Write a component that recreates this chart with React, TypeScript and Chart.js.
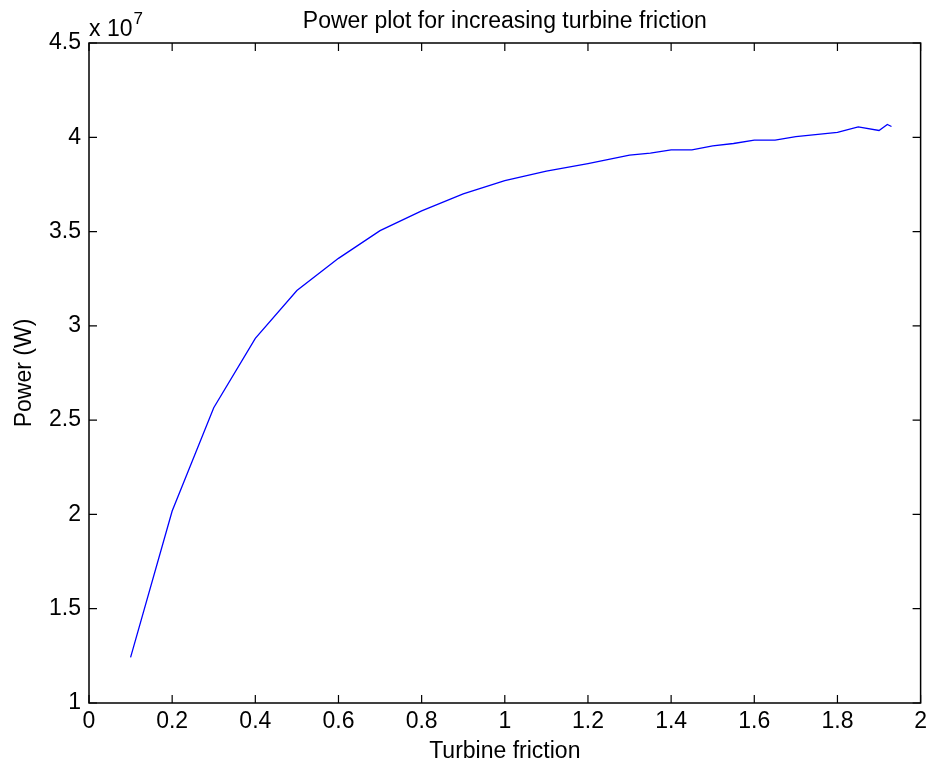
import React, { useEffect, useRef } from "react";
import { Chart, registerables } from "chart.js";

Chart.register(...registerables);

// ---- Data ----
const friction = [0.1, 0.2, 0.3, 0.4, 0.5, 0.6, 0.7, 0.8, 0.9, 1.0, 1.1, 1.2, 1.3, 1.35, 1.4, 1.45, 1.5, 1.55, 1.6, 1.65, 1.7, 1.8, 1.85, 1.9, 1.92, 1.93];
const powerW = [1.242e7, 2.018e7, 2.566e7, 2.934e7, 3.187e7, 3.358e7, 3.505e7, 3.61e7, 3.7e7, 3.77e7, 3.82e7, 3.86e7, 3.905e7, 3.916e7, 3.933e7, 3.933e7, 3.954e7, 3.967e7, 3.985e7, 3.985e7, 4.004e7, 4.026e7, 4.055e7, 4.036e7, 4.068e7, 4.057e7];
const xTickValues = [0, 0.2, 0.4, 0.6, 0.8, 1, 1.2, 1.4, 1.6, 1.8, 2];
const yTickValues = [1, 1.5, 2, 2.5, 3, 3.5, 4, 4.5]; // in units of 10^7 W
const yExponent = 7;
const titleText = "Power plot for increasing turbine friction";
const xLabel = "Turbine friction";
const yLabel = "Power (W)";

const FONT = '"Liberation Sans", Arial, Helvetica, sans-serif';
const TICK_SIZE = 23;
const LABEL_SIZE = 23;
const SCALE = Math.pow(10, yExponent);

const matlabAxes = {
  id: "matlabAxes",
  afterDatasetsDraw(chart: any) {
    const { ctx, chartArea: a, scales } = chart;
    const xs = scales.x;
    const ys = scales.y;
    const L = 8;
    ctx.save();
    ctx.strokeStyle = "#000";
    ctx.lineWidth = 1.2;
    ctx.beginPath();
    for (const v of xTickValues) {
      const px = xs.getPixelForValue(v);
      ctx.moveTo(px, a.bottom);
      ctx.lineTo(px, a.bottom - L);
      ctx.moveTo(px, a.top);
      ctx.lineTo(px, a.top + L);
    }
    for (const v of yTickValues) {
      const py = ys.getPixelForValue(v * SCALE);
      ctx.moveTo(a.left, py);
      ctx.lineTo(a.left + L, py);
      ctx.moveTo(a.right, py);
      ctx.lineTo(a.right - L, py);
    }
    ctx.stroke();
    ctx.lineWidth = 1.5;
    ctx.strokeRect(a.left, a.top, a.right - a.left, a.bottom - a.top);

    ctx.fillStyle = "#000";
    // title, centred over the axes
    ctx.textAlign = "center";
    ctx.textBaseline = "middle";
    ctx.font = `${LABEL_SIZE}px ${FONT}`;
    ctx.fillText(titleText, (a.left + a.right) / 2, 22);

    // exponent label "x 10^7"
    ctx.textAlign = "left";
    ctx.textBaseline = "alphabetic";
    ctx.font = `${TICK_SIZE}px ${FONT}`;
    const base = "x 10";
    ctx.fillText(base, a.left, a.top - 7);
    const w = ctx.measureText(base).width;
    ctx.font = `${Math.round(TICK_SIZE * 0.72)}px ${FONT}`;
    ctx.fillText(String(yExponent), a.left + w + 1, a.top - 19);
    ctx.restore();
  },
};

export default function App() {
  const canvasRef = useRef<HTMLCanvasElement | null>(null);

  useEffect(() => {
    document.body.style.margin = "0";
    const canvas = canvasRef.current;
    if (!canvas) return;
    const chart = new Chart(canvas, {
      type: "line",
      data: {
        datasets: [
          {
            data: friction.map((x, i) => ({ x, y: powerW[i] })),
            borderColor: "#0000ff",
            backgroundColor: "#0000ff",
            borderWidth: 1.3,
            pointRadius: 0,
            tension: 0,
            fill: false,
          },
        ],
      },
      options: {
        animation: false,
        responsive: false,
        devicePixelRatio: 1,
        layout: { padding: { left: 0, right: 10, top: 43, bottom: 0 } },
        plugins: {
          legend: { display: false },
          tooltip: { enabled: false },
          title: { display: false },
        },
        scales: {
          x: {
            type: "linear",
            position: "bottom",
            min: 0,
            max: 2,
            afterBuildTicks: (s: any) => {
              s.ticks = xTickValues.map((v) => ({ value: v }));
            },
            afterFit: (s: any) => {
              s.height = 66;
            },
            grid: { display: false, drawTicks: false },
            border: { display: false },
            ticks: {
              color: "#000",
              font: { family: FONT, size: TICK_SIZE, lineHeight: 1.2 },
              padding: 5,
              maxRotation: 0,
              autoSkip: false,
              callback: (v: any) => String(Math.round(Number(v) * 10) / 10),
            },
            title: {
              display: true,
              text: xLabel,
              color: "#000",
              font: { family: FONT, size: LABEL_SIZE, lineHeight: 1.2 },
              padding: { top: 0, bottom: 4 },
            },
          },
          y: {
            type: "linear",
            position: "left",
            min: yTickValues[0] * SCALE,
            max: yTickValues[yTickValues.length - 1] * SCALE,
            afterBuildTicks: (s: any) => {
              s.ticks = yTickValues.map((v) => ({ value: v * SCALE }));
            },
            afterFit: (s: any) => {
              s.width = 89;
            },
            grid: { display: false, drawTicks: false },
            border: { display: false },
            ticks: {
              color: "#000",
              font: { family: FONT, size: TICK_SIZE, lineHeight: 1.2 },
              padding: 8,
              autoSkip: false,
              callback: (v: any) => String(Math.round((Number(v) / SCALE) * 10) / 10),
            },
            title: {
              display: true,
              text: yLabel,
              color: "#000",
              font: { family: FONT, size: LABEL_SIZE, lineHeight: 1.2 },
              padding: { top: 11, bottom: 0 },
            },
          },
        },
      },
      plugins: [matlabAxes],
    });
    return () => chart.destroy();
  }, []);

  return (
    <div style={{ width: 932, height: 769, background: "#fff" }}>
      <canvas ref={canvasRef} width={932} height={769} style={{ display: "block" }} />
    </div>
  );
}
